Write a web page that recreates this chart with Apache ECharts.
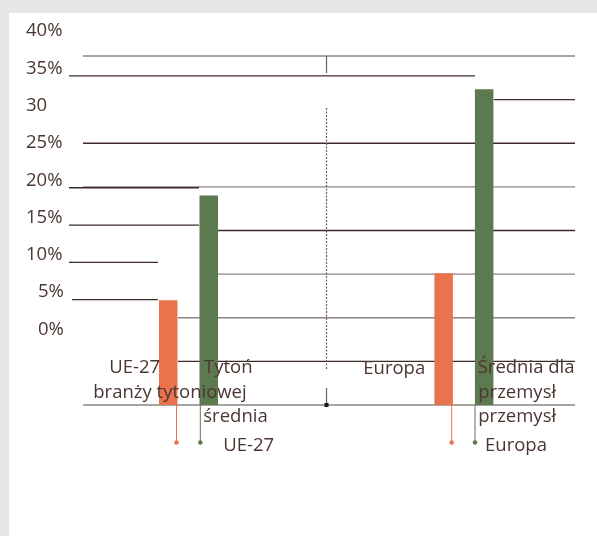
<!DOCTYPE html>
<html><head><meta charset="utf-8">
<script src="https://cdn.jsdelivr.net/npm/echarts@6/dist/echarts.min.js"></script>
<style>
html,body{margin:0;padding:0;background:#e6e7e9;overflow:hidden;}
#card{position:absolute;left:9px;top:13px;width:588px;height:523px;background:#fff;}
#chart{position:absolute;left:0;top:0;width:620px;height:536px;}
</style></head><body>
<div id="card"></div><div id="chart"></div>
<script>
// ---- data ----
const categories = ['UE-27', 'Europa'];
const tobaccoValues = [12.0, 15.1];     // Tytoń / branży tytoniowej
const industryValues = [24.0, 36.2];    // Średnia dla przemysłu
const tickLabels = ['0%', '5%', '10%', '15%', '20%', '25%', '30', '35%', '40%'];
const labelLines0 = ['UE-27', 'Tytoń', 'branży tytoniowej', 'średnia', 'UE-27'];
const labelLines1 = ['Europa', 'Średnia dla', 'przemysł', 'przemysł', 'Europa'];

// ---- style ----
const TEXT = '#4b3632', DARK = '#3d2b28', GRAY = '#8d8482';
const ORANGE = '#e9734c', GREEN = '#5d794f';
const FONT = '18.5px "Open Sans"';

const chart = echarts.init(document.getElementById('chart'), null, {renderer: 'canvas'});
chart.setOption({
  backgroundColor: 'transparent',
  animation: false,
  grid: [
    {left: 50.8, top: 56, width: 550.8, height: 349},
    {left: 70, top: 31, width: 500, height: 298.5}
  ],
  xAxis: [
    {type: 'category', gridIndex: 0, data: categories, axisLine: {show: false}, axisTick: {show: false}, axisLabel: {show: false}, splitLine: {show: false}},
    {type: 'value', gridIndex: 1, show: false}
  ],
  yAxis: [
    {type: 'value', gridIndex: 0, min: 0, max: 40, interval: 5, axisLabel: {show: false}, axisLine: {show: false}, axisTick: {show: false}, splitLine: {show: false}},
    {type: 'value', gridIndex: 1, min: 0, max: 40, interval: 5, axisLine: {show: false}, axisTick: {show: false}, splitLine: {show: false},
     axisLabel: {align: 'left', margin: 44, color: TEXT, fontSize: 18.5, fontFamily: 'Open Sans',
       formatter: v => { const t = tickLabels[Math.round(v / 5)]; return (v <= 5) ? '{s|' + t + '}' : t; },
       rich: {s: {padding: [0, 0, 0, 12], color: TEXT, fontSize: 18.5, fontFamily: 'Open Sans'}}}}
  ],
  series: [
    {type: 'bar', name: 'Tytoń', data: tobaccoValues, xAxisIndex: 0, yAxisIndex: 0, barWidth: 18.5, barGap: '119%', itemStyle: {color: ORANGE}, z: 2},
    {type: 'bar', name: 'Średnia', data: industryValues, xAxisIndex: 0, yAxisIndex: 0, barWidth: 18.5, barGap: '119%', itemStyle: {color: GREEN}, z: 2}
  ]
});

const Y0 = v => chart.convertToPixel({yAxisIndex: 0}, v);
const Y1 = v => chart.convertToPixel({yAxisIndex: 1}, v);
const CX = i => chart.convertToPixel({xAxisIndex: 0}, categories[i]);
const g = [];
function line(x1, y1, x2, y2, color, w, dash) {
  g.push({type: 'line', z: 1, silent: true, shape: {x1, y1, x2, y2},
    style: {stroke: color, lineWidth: w || 1.3, lineDash: dash || null}});
}
// main gridline segments [tick value, x1, x2, color]
const mainSeg = [[40, 83, 575, GRAY], [35, 494, 575, DARK], [30, 83, 575, DARK], [25, 83, 575, GRAY],
  [20, 218, 575, DARK], [15, 218, 575, GRAY], [10, 178, 575, GRAY], [5, 178, 575, DARK], [0, 83, 575, GRAY]];
mainSeg.forEach(s => { const y = Y0(s[0]); line(s[1], y, s[2], y, s[3]); });
// label-axis gridline segments
const sideSeg = [[35, 69, 475], [20, 69, 199], [15, 69, 199], [10, 69, 158], [5, 72, 158]];
sideSeg.forEach(s => { const y = Y1(s[0]) + 7.5; line(s[1], y, s[2], y, DARK); });

// category divider
const xd = Math.round((CX(0) + CX(1)) / 2) + 0.5;
line(xd, Y0(40), xd, 73, '#6b5d5b', 1.2);
line(xd, 108, xd, 370, '#6b5d5b', 1.2, [2, 1.5]);
line(xd, 388, xd, Y0(0), '#6b5d5b', 1.2);
g.push({type: 'rect', z: 3, shape: {x: xd - 2, y: Y0(0) - 2, width: 4, height: 4}, style: {fill: '#1a1a1a'}});

// stems + dots
const stemOff = [[-12, 11.8], [-12.2, 11.1]];
for (let i = 0; i < 2; i++) {
  const cx = CX(i);
  [[stemOff[i][0], ORANGE], [stemOff[i][1], GREEN]].forEach(([dx, c]) => {
    const x = cx + dx;
    line(x, Y0(0), x, 442.5, c, 1);
    g.push({type: 'circle', z: 3, shape: {cx: x, cy: 442.5, r: 2.3}, style: {fill: c}});
  });
}

// category text pieces: [dx from category centre, y]
const textPos0 = [[-79.2, 368], [15.5, 368], [-95.2, 392.5], [14.8, 416.5], [34.8, 446]];
const textPos1 = [[-100.6, 368.5], [13.8, 368], [14.4, 392.5], [14.4, 416.5], [21.1, 446]];
[[labelLines0, textPos0], [labelLines1, textPos1]].forEach(([lines, pos], i) => {
  const cx = CX(i);
  lines.forEach((t, k) => {
    g.push({type: 'text', z: 10, x: cx + pos[k][0], y: pos[k][1],
      style: {text: t, fill: TEXT, font: FONT, align: 'left', verticalAlign: 'middle'}});
  });
});

chart.setOption({graphic: {elements: g}});
</script>
</body></html>
